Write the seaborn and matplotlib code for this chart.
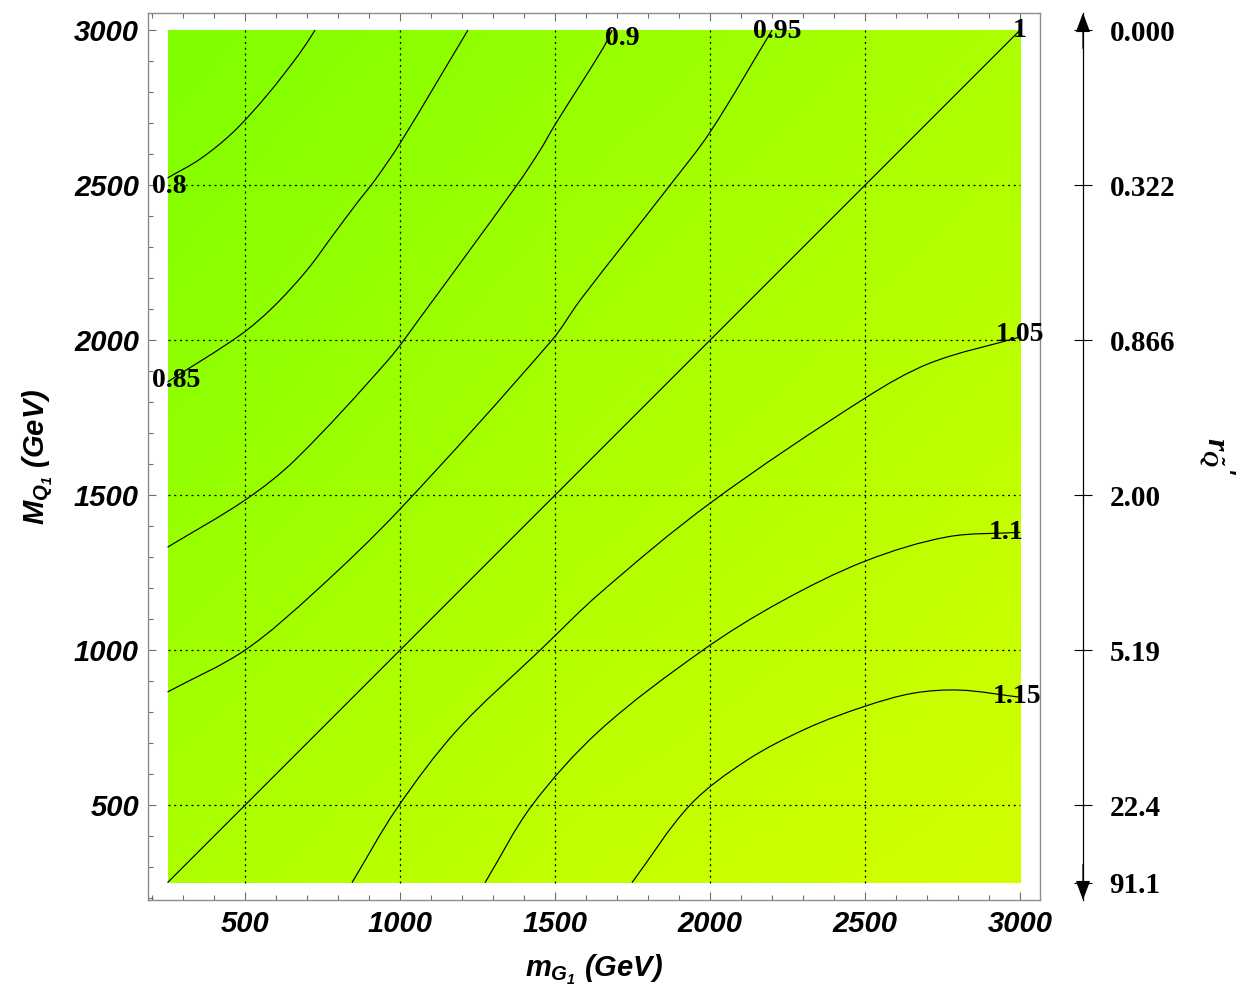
import numpy as np
import pandas as pd
import matplotlib
matplotlib.use("Agg")
import matplotlib.pyplot as plt
from matplotlib.ticker import MultipleLocator, FixedLocator
from matplotlib.patches import Rectangle, PathPatch
from matplotlib.path import Path
import seaborn as sns

# ---------------- data ----------------
levels = ["0.8", "0.85", "0.9", "0.95", "1", "1.05", "1.1", "1.15"]

c080_m = [250, 355, 462, 571, 677, 726]
c080_M = [2523, 2584, 2671, 2790, 2926, 3000]

c085_m = [250, 484, 590, 700, 784, 861, 919, 1000, 1219]
c085_M = [1865, 2016, 2106, 2226, 2339, 2442, 2516, 2635, 3000]

c090_m = [250, 500, 661, 961, 1064, 1377, 1452, 1500, 1655, 1684]
c090_M = [1332, 1484, 1613, 1935, 2071, 2500, 2613, 2695, 2942, 3000]

c095_m = [250, 500, 732, 1000, 1490, 1581, 1871, 2000, 2200]
c095_M = [865, 1000, 1194, 1455, 2000, 2129, 2500, 2671, 3000]

c100_m = [250, 1000, 2000, 3000]
c100_M = [250, 1000, 2000, 3000]

c105_m = [845, 990, 1184, 1452, 1645, 2000, 2500, 2710, 3000]
c105_M = [250, 490, 742, 1000, 1184, 1474, 1813, 1926, 2010]

c110_m = [1274, 1426, 1645, 1977, 2226, 2500, 2764, 3000]
c110_M = [250, 500, 742, 1000, 1155, 1287, 1365, 1380]

c115_m = [1748, 1935, 2119, 2313, 2500, 2655, 2806, 3000]
c115_M = [250, 500, 645, 748, 819, 861, 871, 848]

contours_m = [c080_m, c085_m, c090_m, c095_m, c100_m, c105_m, c110_m, c115_m]
contours_M = [c080_M, c085_M, c090_M, c095_M, c100_M, c105_M, c110_M, c115_M]

major_ticks = [500, 1000, 1500, 2000, 2500, 3000]
right_ticks = [3000, 2500, 2000, 1500, 1000, 500, 250]
right_labels = ["0.000", "0.322", "0.866", "2.00", "5.19", "22.4", "91.1"]

# ---------------- style ----------------
sns.set_style("white")
plt.rcParams["mathtext.fontset"] = "custom"
plt.rcParams["mathtext.it"] = "Liberation Sans:italic:bold"
plt.rcParams["mathtext.rm"] = "Liberation Sans:italic:bold"
plt.rcParams["mathtext.sf"] = "Liberation Serif:italic:bold"
plt.rcParams["mathtext.bf"] = "Liberation Serif:bold"
plt.rcParams["font.family"] = ["Liberation Sans", "DejaVu Sans"]
for k in ["text.color", "axes.labelcolor", "xtick.labelcolor", "ytick.labelcolor"]:
    plt.rcParams[k] = "black"

# label anchoring: which end of each contour the label sits at, and offsets (points)
label_end = ["first", "first", "last", "last", "last", "last", "last", "last"]
label_off = [(1, -6), (6, 1), (7, -6), (4, -1), (0, 0), (0, 1.5), (-10, 0), (-2, 0.5)]

# background colour field (RGB, rows from bottom M=250 to top M=3000)
bg = np.array([
    [[172, 255, 0], [196, 255, 0], [210, 255, 0]],
    [[146, 255, 0], [172, 255, 0], [192, 255, 0]],
    [[126, 255, 0], [150, 255, 0], [172, 255, 0]],
]) / 255.0


def smooth_path(xs, ys):
    """Smooth curve through the read points (cubic Bezier, tangent from neighbours)."""
    P = np.column_stack([xs, ys]).astype(float)
    n = len(P)
    T = np.zeros_like(P)
    for i in range(n):
        v = P[min(i + 1, n - 1)] - P[max(i - 1, 0)]
        T[i] = v / np.hypot(*v)
    verts = [P[0]]
    codes = [Path.MOVETO]
    for i in range(n - 1):
        d = np.hypot(*(P[i + 1] - P[i]))
        verts += [P[i] + T[i] * d / 3, P[i + 1] - T[i + 1] * d / 3, P[i + 1]]
        codes += [Path.CURVE4] * 3
    return Path(verts, codes)


W, H = 1238, 993
fig = plt.figure(figsize=(W / 100, H / 100), dpi=100)
ax = fig.add_axes([148 / W, 1 - 900 / H, 892 / W, 887 / H])

# background gradient limited to the data region
im = ax.imshow(bg, extent=(250 - 687.5, 3000 + 687.5, 250 - 687.5, 3000 + 687.5),
               origin="lower", interpolation="bilinear", aspect="auto", zorder=0)
im.set_clip_path(Rectangle((250, 250), 2750, 2750, transform=ax.transData))
ax.set_xlim(187, 3064)
ax.set_ylim(194, 3055)

# dotted grid inside the data region
ax.vlines(major_ticks[:-1], 250, 3000, colors="black", linestyles=(0, (1.6, 3.0)),
          linewidth=0.9, zorder=1)
ax.hlines(major_ticks[:-1], 250, 3000, colors="black", linestyles=(0, (1.6, 3.0)),
          linewidth=0.9, zorder=1)

# contour lines and labels
for lab, mm, MM, end, off in zip(levels, contours_m, contours_M, label_end, label_off):
    ax.add_patch(PathPatch(smooth_path(mm, MM), fill=False, edgecolor="black",
                           linewidth=0.85, zorder=2))
    i = 0 if end == "first" else -1
    ax.annotate(lab, xy=(mm[i], MM[i]), xytext=off, textcoords="offset points",
                ha="center", va="center", fontsize=20, fontweight="bold",
                family="Liberation Serif", color="black", zorder=3,
                annotation_clip=False)

# frame and ticks
for s in ax.spines.values():
    s.set_color("#8c8c8c")
    s.set_linewidth(1.0)
ax.xaxis.set_major_locator(FixedLocator(major_ticks))
ax.yaxis.set_major_locator(FixedLocator(major_ticks))
ax.xaxis.set_minor_locator(MultipleLocator(100))
ax.yaxis.set_minor_locator(MultipleLocator(100))
ax.tick_params(which="both", direction="in", top=True, right=True, bottom=True, left=True,
               color="#6e6e6e", width=0.8, labelcolor="black")
ax.tick_params(which="major", length=5.8)
ax.tick_params(which="minor", length=3.3)
ax.tick_params(axis="y", which="major", pad=6.5, labelsize=21)
ax.tick_params(axis="x", which="major", pad=7, labelsize=21)
for t in ax.get_xticklabels() + ax.get_yticklabels():
    t.set_fontweight("bold")
    t.set_fontstyle("italic")
    t.set_family("Liberation Sans")

ax.set_xlabel(r"$m_{G_{1}}$ (GeV)", fontsize=21, fontweight="bold", fontstyle="italic",
              labelpad=11, color="black")
ax.set_ylabel(r"$M_{Q_{1}}$ (GeV)", fontsize=21, fontweight="bold", fontstyle="italic",
              labelpad=14, color="black")

# right-hand r_Q' axis
ax2 = ax.twinx()
ax2.set_ylim(ax.get_ylim())
for k in ["left", "top", "bottom"]:
    ax2.spines[k].set_visible(False)
ax2.spines["right"].set_position(("axes", 1.0482))
ax2.spines["right"].set_color("black")
ax2.spines["right"].set_linewidth(0.9)
ax2.yaxis.set_major_locator(FixedLocator(right_ticks))
ax2.set_yticklabels(right_labels)
ax2.yaxis.set_minor_locator(FixedLocator([]))
ax2.tick_params(axis="y", which="major", direction="inout", length=13.5, width=0.8,
                color="black", pad=12.5, labelsize=21, labelcolor="black")
for t in ax2.get_yticklabels():
    t.set_fontweight("bold")
    t.set_family("Liberation Serif")
ax2.grid(False)
ax.grid(False)

# arrow heads at both ends of the right axis
for y0, y1 in [(0.96, 1.0), (0.04, 0.0)]:
    ax2.annotate("", xy=(1.0482, y1), xytext=(1.0482, y0), xycoords="axes fraction",
                 textcoords="axes fraction",
                 arrowprops=dict(arrowstyle="-|>,head_length=0.4,head_width=0.15",
                                 color="black", lw=0.9, mutation_scale=30,
                                 shrinkA=0, shrinkB=0),
                 annotation_clip=False)

fig.text(1217 / W, 1 - 456 / H, r"${\mathsf{r}_{\tilde{\mathsf{Q}}}}'$", rotation=270,
         ha="center", va="center", fontsize=23, color="black")

fig.savefig("out.png", dpi=100)
